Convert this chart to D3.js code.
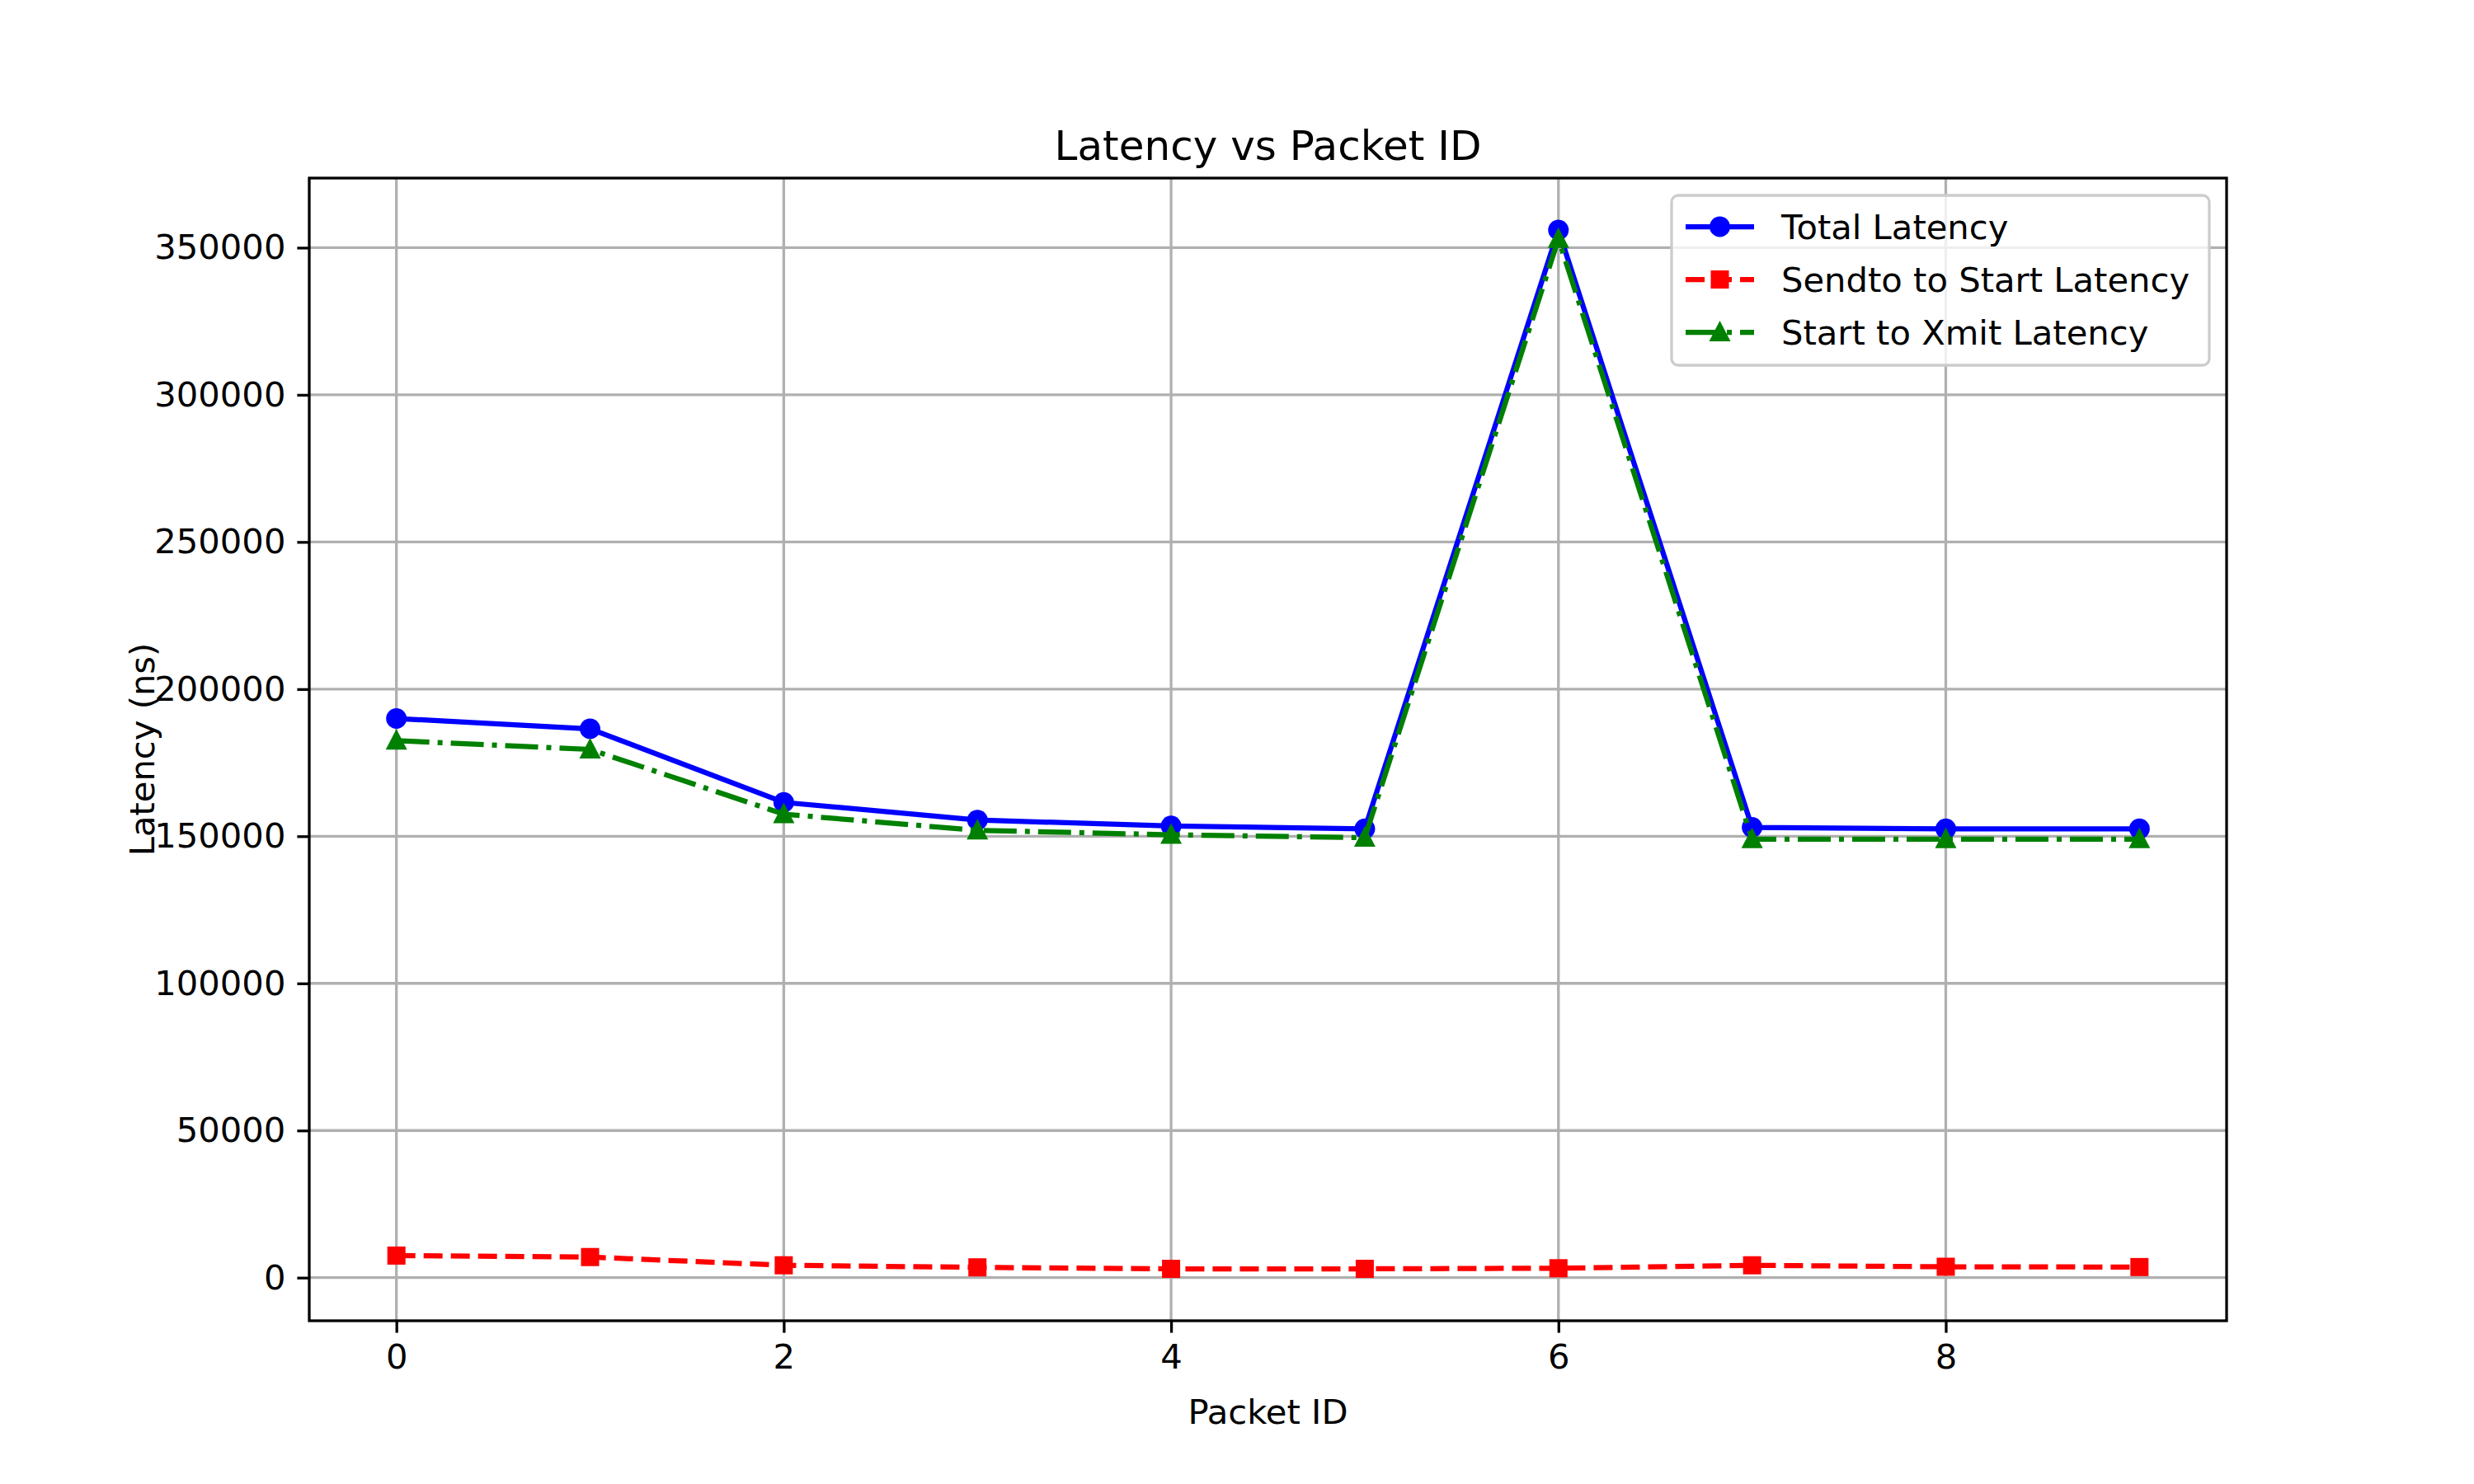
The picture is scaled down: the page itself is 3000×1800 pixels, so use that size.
<!DOCTYPE html>
<html>
<head>
<meta charset="utf-8">
<script src="https://cdn.jsdelivr.net/npm/d3@7"></script>
<style>
  body { margin: 0; background: #fff; }
  text { font-family: "DejaVu Sans", sans-serif; }
</style>
</head>
<body>
<svg id="chart" width="3000" height="1800"></svg>
<script>
// Chart data
const packetIds = [0, 1, 2, 3, 4, 5, 6, 7, 8, 9];
const totalLatency = [190000, 186500, 161500, 155500, 153500, 152500, 356000, 153000, 152500, 152500];
const sendtoStartLatency = [7500, 7000, 4200, 3500, 3000, 3000, 3200, 4200, 3700, 3600];
const startXmitLatency = [182500, 179500, 157500, 152000, 150500, 149500, 353000, 149000, 149000, 149000];
const xTicks = [0, 2, 4, 6, 8];
const yTicks = [0, 50000, 100000, 150000, 200000, 250000, 300000, 350000];

const series = [
  { name: 'Total Latency', values: totalLatency, color: 'blue', dash: null, marker: 'circle' },
  { name: 'Sendto to Start Latency', values: sendtoStartLatency, color: 'red', dash: '23,10', marker: 'square' },
  { name: 'Start to Xmit Latency', values: startXmitLatency, color: 'green', dash: '40,10,6,10', marker: 'triangle' }
];

const svg = d3.select('#chart');
const pLeft = 375, pRight = 2700, pTop = 216, pBottom = 1602;
const fs = 41.7;

// matplotlib-style 5% margins
const all = series.flatMap(s => s.values);
const yMin = d3.min(all), yMax = d3.max(all), yr = yMax - yMin;
const x = d3.scaleLinear().domain([-0.45, 9.45]).range([pLeft, pRight]);
const y = d3.scaleLinear().domain([yMin - 0.05 * yr, yMax + 0.05 * yr]).range([pBottom, pTop]);

// Grid
const grid = svg.append('g').attr('stroke', '#b0b0b0').attr('stroke-width', 3.3);
xTicks.forEach(t => grid.append('line').attr('x1', x(t)).attr('x2', x(t)).attr('y1', pTop).attr('y2', pBottom));
yTicks.forEach(t => grid.append('line').attr('y1', y(t)).attr('y2', y(t)).attr('x1', pLeft).attr('x2', pRight));

// Axes
const xAxis = svg.append('g').attr('transform', `translate(0,${pBottom})`)
  .call(d3.axisBottom(x).tickValues(xTicks).tickSize(14.6).tickPadding(14).tickFormat(d3.format('d')));
const yAxis = svg.append('g').attr('transform', `translate(${pLeft},0)`)
  .call(d3.axisLeft(y).tickValues(yTicks).tickSize(14.6).tickPadding(14).tickFormat(d3.format('d')));
[xAxis, yAxis].forEach(a => {
  a.select('.domain').remove();
  a.selectAll('.tick line').attr('stroke', '#000').attr('stroke-width', 3.3);
  a.selectAll('.tick text').attr('font-size', fs).attr('fill', '#000')
    .style('font-family', '"DejaVu Sans", sans-serif');
});

function drawMarker(g, type, cx, cy, color) {
  if (type === 'circle') {
    g.append('circle').attr('cx', cx).attr('cy', cy).attr('r', 12.5).attr('fill', color);
  } else if (type === 'square') {
    g.append('rect').attr('x', cx - 11).attr('y', cy - 11).attr('width', 22).attr('height', 22).attr('fill', color);
  } else {
    g.append('path').attr('d', `M${cx},${cy - 14}L${cx + 13},${cy + 11}L${cx - 13},${cy + 11}Z`).attr('fill', color);
  }
}

const plot = svg.append('g');
series.forEach(s => {
  const line = d3.line().x((d, i) => x(packetIds[i])).y(d => y(d));
  plot.append('path').datum(s.values).attr('d', line)
    .attr('fill', 'none').attr('stroke', s.color).attr('stroke-width', 6.25)
    .attr('stroke-dasharray', s.dash);
  s.values.forEach((v, i) => drawMarker(plot, s.marker, x(packetIds[i]), y(v), s.color));
});

// Frame
svg.append('rect').attr('x', pLeft).attr('y', pTop).attr('width', pRight - pLeft).attr('height', pBottom - pTop)
  .attr('fill', 'none').attr('stroke', '#000').attr('stroke-width', 3.3);

// Titles
svg.append('text').attr('x', (pLeft + pRight) / 2).attr('y', pTop - 22).attr('text-anchor', 'middle')
  .attr('font-size', 50).text('Latency vs Packet ID');
svg.append('text').attr('x', (pLeft + pRight) / 2).attr('y', pBottom + 125).attr('text-anchor', 'middle')
  .attr('font-size', fs).text('Packet ID');
svg.append('text').attr('transform', `translate(${pLeft - 188},${(pTop + pBottom) / 2}) rotate(-90)`)
  .attr('text-anchor', 'middle').attr('font-size', fs).text('Latency (ns)');

// Legend
const lgW = 652, lgH = 206, lgX = pRight - 21 - lgW, lgY = pTop + 21;
const lg = svg.append('g');
lg.append('rect').attr('x', lgX).attr('y', lgY).attr('width', lgW).attr('height', lgH).attr('rx', 8)
  .attr('fill', 'rgba(255,255,255,0.8)').attr('stroke', '#cccccc').attr('stroke-width', 3.3);
series.forEach((s, i) => {
  const cy = lgY + 38 + i * 64;
  const hx = lgX + 17;
  lg.append('line').attr('x1', hx).attr('x2', hx + 83).attr('y1', cy).attr('y2', cy)
    .attr('stroke', s.color).attr('stroke-width', 6.25)
    .attr('stroke-dasharray', s.dash ? (s.marker === 'square' ? '23,10' : '40,10,6,10') : null);
  drawMarker(lg, s.marker, hx + 41.5, cy, s.color);
  lg.append('text').attr('x', hx + 83 + 33).attr('y', cy + 15).attr('font-size', fs).text(s.name);
});
</script>
</body>
</html>
